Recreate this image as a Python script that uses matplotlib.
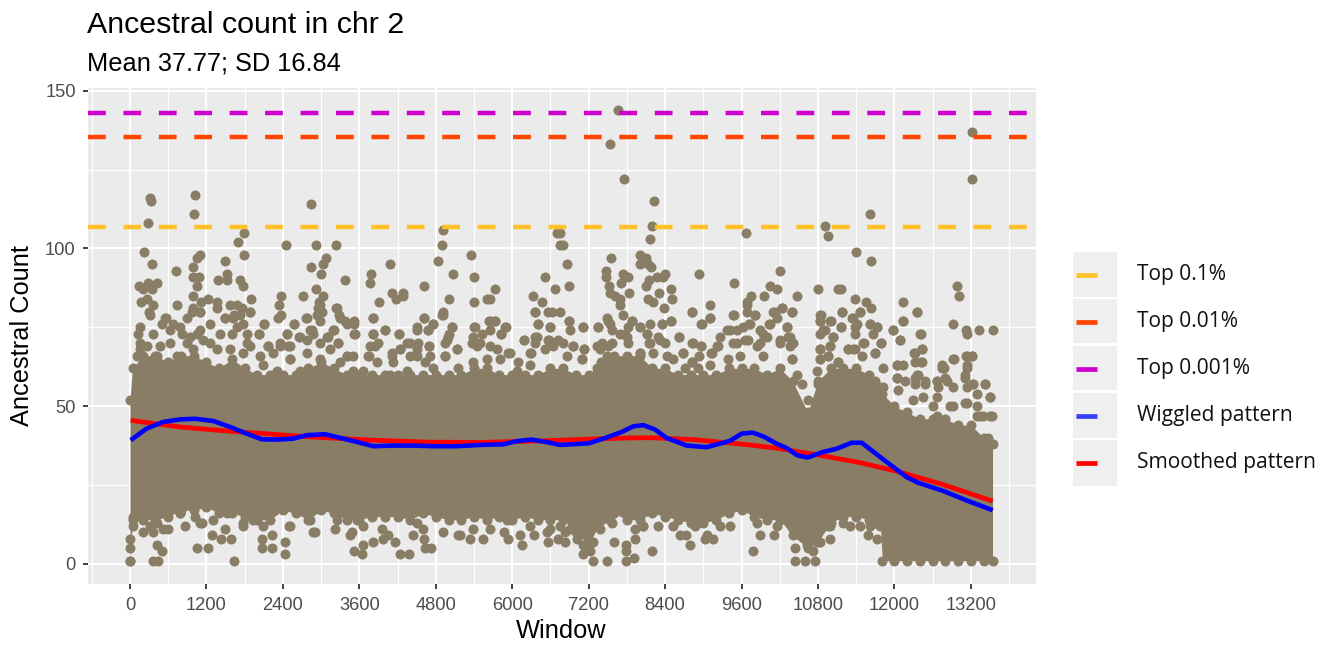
import matplotlib
matplotlib.use("Agg")
import matplotlib.pyplot as plt
from matplotlib.lines import Line2D
from matplotlib.patches import Rectangle

W, H = 1336, 646

title = "Ancestral count in chr 2"
subtitle = "Mean 37.77; SD 16.84"
x_label = "Window"
y_label = "Ancestral Count"
x_major = [0, 1200, 2400, 3600, 4800, 6000, 7200, 8400, 9600, 10800, 12000, 13200]
x_minor = [-600, 600, 1800, 3000, 4200, 5400, 6600, 7800, 9000, 10200, 11400, 12600, 13800]
y_major = [0, 50, 100, 150]
y_minor = [25, 75, 125]

top_01 = 106.8
top_001 = 135.5
top_0001 = 143.0

cloud_x = [0, 40, 200, 400, 600, 800, 1000, 1200, 1400, 1600, 1800, 2000, 2200, 2400, 2600, 2800, 3000, 3200, 3400,
           3600, 3800, 4000, 4200, 4400, 4600, 4800, 5000, 5200, 5400, 5600, 5800, 6000, 6200, 6400, 6600, 6800,
           7000, 7200, 7400, 7600, 7800, 8000, 8200, 8400, 8600, 8800, 9000, 9200, 9400, 9600, 9800, 10000, 10200,
           10400, 10640, 10800, 11000, 11200, 11400, 11600, 11700, 11780, 11810, 12000, 12200, 12400, 12600, 12800,
           13000, 13200, 13400, 13540]
cloud_high = [52, 62, 66, 66, 64, 66, 66, 64, 62, 65, 62, 60, 60, 60, 60, 62, 64, 62, 60,
              60, 60, 60, 60, 60, 60, 60, 60, 60, 62, 62, 60, 60, 60, 60, 62, 62,
              60, 60, 64, 66, 66, 66, 62, 62, 60, 60, 60, 60, 62, 62, 62, 60, 62,
              58, 48, 58, 62, 62, 62, 60, 58, 56, 54, 50, 48, 46, 46, 46,
              44, 44, 40, 38]
cloud_low = [1, 14, 14, 14, 15, 17, 17, 18, 16, 16, 15, 14, 14, 17, 16, 14, 17, 16, 14,
             14, 15, 15, 15, 14, 16, 15, 14, 14, 15, 14, 15, 14, 15, 14, 14, 14,
             10, 6, 14, 16, 14, 14, 16, 15, 14, 13, 13, 14, 16, 17, 15, 14, 14,
             9, 5, 7, 13, 15, 15, 14, 13, 12, 1, 1, 1, 1, 1, 1,
             1, 1, 1, 1]

upper_x = [314, 330, 288, 225, 350, 1015, 1005, 2842, 1795, 1695, 1795, 2454, 2920, 3240, 4919, 4904, 5353, 4835, 5076, 5406,
           4076, 3789, 3773, 1497, 1528, 1518, 1376, 1732, 1769, 2847, 3025, 3077, 3000, 3370, 1099, 1047, 989, 984, 1089, 1057, 994,
           727, 147, 288, 419, 350, 209, 272, 167, 356, 298, 738, 1230, 1361, 1366, 1109, 984, 1099, 2376, 2345, 2376, 2329, 2716, 1894,
           2920, 3025, 2962, 2957, 3009, 3229, 3286, 3375, 3522, 3904, 4108, 4280, 4176, 4291, 4615, 5013, 5730, 5599, 5651, 5395, 6321,
           6510, 6667, 6473, 6703, 6750, 4919, 4904, 4615, 3820, 1491, 1570, 1675, 1764, 1884, 1638, 6363, 6567, 6625, 6750, 6411, 6588,
           2098, 2575, 2774, 560, 4500, 4762, 5641, 5735, 5406, 5898, 4008, 4223, 3820, 3527, 3203, 2460, 2030, 4684, 5055, 5003, 4971,
           6191, 5819, 5521, 6358, 6583, 2658, 2172, 2355, 2486, 4694, 5128, 4946, 5443, 5965, 6280, 2512, 3757, 4500, 4239, 4108, 3846,
           4396, 4527, 3401, 3270, 3114, 2878, 2826,
           7655, 7530, 7750, 8231, 8189, 8158, 9675, 10910, 10952, 11611, 11402, 11627, 13223, 13223, 6855, 6797, 6750, 6891,
           7556, 8001, 8100, 8137, 8006, 8173, 7477, 7467, 7734, 7823, 7702, 7519, 7833, 7535, 7613, 7692, 8398, 8278, 8372, 8147, 8100,
           8493, 8503, 8309, 8137, 8215, 8388, 8493, 8346, 8927, 9487, 10199, 10047, 10151, 9958, 9749, 9680, 10465, 10795, 11120, 11161,
           11386, 11549, 11627, 12130, 12355, 12988, 13019, 9100, 8822, 9100, 8969, 8623, 9476, 9817, 9680, 10099, 10230, 10397, 10151,
           10031, 11172, 10847, 10837, 10999, 11460, 11329, 11381, 11161, 10884, 11031, 12140, 12925, 11972, 13124, 13333, 13542, 13134,
           12407, 12088, 11795, 11523, 11617, 11732, 11659, 7116, 7352, 6891, 7509, 8006, 8111, 8320, 6959, 7127, 7101, 8833, 8958, 8686,
           8927, 9121, 8817, 12428, 12313, 12423, 13218, 13119, 12930, 13134, 12742, 12046, 12140, 12778, 13108, 9262, 9210, 9419, 9628,
           9733, 9890, 9994, 10309, 10361, 10204, 10413, 10387, 9523, 9696, 9890, 10832, 10962, 10832, 10989, 11276, 11381, 11695, 11120,
           8005, 8152, 7509, 7325, 7770, 7875, 13500, 13527, 13422, 13239, 13134, 12794, 12480, 12663, 12925, 13292, 13396, 13475, 12035,
           12323, 12375]
upper_y = [116, 115, 108, 99, 95, 117, 111, 114, 105, 102, 98, 101, 101, 101, 106, 101, 98, 96, 92, 91,
           95, 92, 89, 96, 92, 90, 90, 90, 88, 94, 95, 97, 92, 90, 98, 97, 94, 91, 91, 88, 85,
           93, 88, 89, 89, 87, 87, 84, 83, 82, 80, 82, 84, 83, 81, 83, 81, 80, 85, 82, 79, 78, 85, 84,
           87, 85, 83, 81, 80, 81, 79, 77, 77, 83, 86, 86, 84, 85, 88, 84, 87, 84, 84, 83, 85,
           91, 87, 83, 105, 101, 80, 79, 78, 78, 78, 82, 82, 81, 80, 79, 80, 80, 80, 80, 76, 75,
           76, 76, 78, 78, 75, 76, 77, 77, 75, 75, 74, 73, 73, 73, 74, 73, 73, 74, 75, 73, 71,
           71, 73, 73, 72, 71, 72, 69, 69, 69, 69, 68, 66, 69, 67, 67, 65, 66, 66, 68, 66, 69,
           70, 70, 66, 70, 72, 73, 74,
           144, 133, 122, 115, 107, 103, 105, 107, 104, 111, 99, 96, 137, 122, 95, 101, 105, 88,
           97, 98, 97, 95, 95, 94, 93, 91, 92, 91, 89, 88, 86, 86, 85, 84, 92, 91, 91, 90, 88,
           87, 84, 86, 84, 83, 81, 77, 76, 92, 89, 93, 88, 87, 85, 85, 83, 85, 87, 87, 87,
           84, 83, 81, 83, 80, 88, 85, 82, 80, 78, 76, 72, 79, 79, 80, 80, 81, 80, 78,
           76, 80, 79, 77, 77, 80, 78, 75, 75, 74, 72, 77, 76, 74, 74, 74, 74, 73,
           73, 71, 70, 70, 76, 75, 73, 75, 75, 77, 77, 75, 73, 71, 69, 68, 65, 70, 69, 67,
           66, 67, 64, 68, 67, 64, 66, 66, 65, 63, 63, 63, 63, 62, 60, 72, 69, 74, 75,
           76, 74, 72, 75, 72, 71, 70, 65, 70, 71, 70, 68, 66, 65, 69, 68, 68, 67, 64,
           67, 70, 69, 69, 73, 77, 53, 47, 57, 57, 51, 59, 57, 58, 50, 47, 47, 40, 59,
           59, 60]

band_x = [314, 497, 550, 680, 157, 131, 366, 628, 785, 968, 1099, 890, 811, 942, 1047, 1256, 1099, 1413, 1491, 1622, 1727, 1884,
          1675, 1779, 1832, 1832, 1596, 1256, 1151, 890, 628, 471, 262, 157, 105, 157, 419, 733, 994, 1361, 1570, 1779, 1884,
          2030, 2098, 2460, 2575, 2669, 2763, 2852, 2983, 2931, 2983, 3244, 3297, 3401, 3522, 3522, 3820, 3810, 3899, 4003, 4223,
          3768, 3742, 4108, 4239, 4343, 4500, 2172, 2355, 2512, 2512, 2041, 2250, 2774, 3087, 3192, 3271, 2983, 3140, 2774, 3401,
          3506, 3297, 3506, 3872, 4134, 4396, 4500, 2669, 2983, 2093, 2303, 3663, 4082, 4343,
          4616, 4762, 4684, 4909, 5050, 4998, 4945, 4700, 5129, 4945, 4710, 4631, 4762, 5155, 5390, 5416, 5390, 5364, 5495, 5652,
          5730, 5652, 5887, 5825, 5757, 5940, 5652, 5600, 5809, 6097, 6071, 6296, 6280, 6191, 6358, 6411, 6594, 6384, 6358, 6568,
          6725, 6892, 6908, 6960, 7117, 7128, 7091, 6515, 6646, 6803, 6855, 7353, 7484, 7536, 7562, 7693, 7745, 7876, 7824, 7797,
          7824, 7693, 7405, 7379, 7562, 7484, 7327, 8007, 8164, 8347, 8494, 8111, 8164, 8295, 8399, 8619, 8007, 8216, 8425, 8687,
          8828, 8965, 9132, 9226, 8975, 9106, 8823, 8818, 8922, 9106, 8713, 8530, 7955, 8216,
          9471, 9811, 9681, 10047, 9723, 10125, 10230, 10387, 9367, 9524, 9942, 9654, 9471, 10309, 10335, 10204, 10361, 9838, 9393,
          9576, 9942, 10387, 10466, 10544, 10649, 10832, 10832, 10989, 10832, 10910, 11031, 10989, 10832, 10963, 10832, 10780,
          10806, 11172, 11156, 11460, 11355, 11408, 11381, 11617, 11722, 11512, 11789, 11973, 12088, 12412, 12140, 12349, 11277,
          11120, 11355, 11695, 11486, 11826, 12035, 12428, 12323, 12428, 12323, 12349, 12035, 12166, 12323, 12480, 12663, 12742,
          12925, 13134, 13213, 13134, 13108, 12820, 12925, 12690, 12663, 13134, 13239, 13422, 13291, 13500, 13108, 13291, 12873,
          12611, 12297, 12454, 12062, 11826, 13500, 13344, 12663]
band_y = [79, 76, 78, 76, 75, 73, 73, 74, 75, 80, 80, 78, 73, 72, 73, 76, 74, 73, 78, 78, 79, 80,
          75, 76, 73, 70, 73, 70, 71, 70, 70, 69, 69, 70, 66, 68, 66, 66, 68, 68, 68, 67, 69,
          73, 76, 73, 76, 72, 78, 74, 77, 79, 82, 81, 78, 76, 76, 73, 78, 73, 70, 74, 73,
          69, 66, 67, 68, 70, 74, 69, 70, 69, 65, 66, 67, 71, 72, 74, 70, 70, 68, 67, 66,
          66, 64, 61, 64, 64, 66, 68, 61, 65, 63, 61, 61, 60, 61,
          78, 76, 74, 79, 75, 72, 70, 69, 68, 66, 66, 64, 62, 62, 64, 75, 72, 70, 70, 77,
          77, 74, 75, 73, 68, 67, 69, 65, 65, 64, 61, 67, 63, 71, 80, 76, 75, 72, 70, 71,
          71, 77, 74, 69, 75, 68, 65, 68, 69, 70, 66, 75, 78, 76, 74, 82, 79, 77, 75, 72,
          70, 73, 70, 68, 70, 66, 62, 75, 76, 76, 77, 73, 70, 72, 70, 72, 67, 67, 66, 67,
          70, 69, 67, 69, 76, 78, 80, 64, 62, 63, 62, 65, 62, 61,
          79, 79, 82, 76, 76, 80, 81, 80, 74, 74, 73, 71, 70, 75, 72, 70, 69, 69, 65,
          66, 66, 65, 60, 57, 52, 79, 77, 77, 73, 74, 72, 69, 68, 66, 65, 61,
          57, 80, 75, 80, 78, 76, 73, 76, 75, 70, 70, 74, 71, 73, 77, 80, 68,
          64, 68, 67, 66, 62, 63, 68, 67, 64, 64, 60, 59, 58, 57, 58, 58, 62,
          65, 66, 66, 62, 59, 58, 56, 56, 53, 56, 57, 57, 54, 53, 51, 50, 50,
          50, 52, 53, 55, 56, 47, 47, 47]

lower_x = [445, 1633, 366, 497, 429, 1047, 1219, 869, 1293, 1429, 1586, 1491, 2067, 2067, 2234, 2234, 2433, 2433, 3516, 3647, 3663,
           3810, 4239, 4380, 4631, 4725, 4160, 4615, 4448, 3977, 5338, 5547, 5155, 5877, 5940, 6154, 6342, 6567, 6724, 6541, 2904, 3454,
           3218, 2501, 1779, 1099, 785, 602, 209, 0,
           7273, 7493, 7786, 7912, 7786, 7786, 7603, 8200, 7927, 8791, 9026, 9157, 8728, 9785, 9890, 10115, 10439, 10439, 10596, 10753,
           10989, 10832, 11585, 6828, 6828, 7116, 8294, 8058, 9419, 7378, 7561, 10963, 11303, 11460,
           52, 52, 0, 0, 183, 314, 419, 366, 523, 785, 1020, 1125, 1308, 1518, 1779, 1936, 2093, 2145, 2512, 2826, 2878, 3244, 3558,
           3480, 3663, 3951, 4055, 4500, 4605, 4920, 5181, 5390, 5652, 5913, 6122, 6280, 6593, 6750, 6907, 7012, 7116, 7221, 7273,
           7221, 7064, 7535, 7927, 8058, 8529, 8634, 8870, 9052, 9262, 9837, 10151, 10413, 10518, 10622, 10727, 10779, 10832, 10989,
           11198, 11617, 11721]
lower_y = [1, 1, 1, 4, 6, 5, 5, 12, 9, 8, 8, 11, 8, 5, 5, 9, 7, 3, 4, 3, 6,
           7, 3, 3, 5, 5, 7, 8, 9, 8, 8, 8, 9, 10, 8, 6, 9, 7, 8, 10, 10, 9,
           11, 12, 12, 13, 16, 11, 10, 1,
           1, 1, 1, 2, 4, 6, 7, 4, 8, 6, 8, 8, 9, 4, 9, 9, 1, 5, 1, 1,
           8, 7, 9, 10, 7, 3, 12, 12, 12, 11, 13, 12, 12, 12,
           15, 12, 8, 5, 15, 12, 13, 10, 11, 16, 15, 13, 14, 16, 13, 14, 12, 16, 12, 14, 10, 14, 14,
           10, 12, 11, 9, 13, 11, 10, 9, 11, 11, 14, 9, 12, 11, 12, 11, 8, 6, 4, 7,
           11, 12, 14, 11, 12, 12, 9, 12, 9, 12, 13, 12, 11, 9, 6, 4, 7, 11, 12,
           13, 12, 8]

wiggle_x = [10, 262, 523, 785, 1020, 1308, 1570, 1831, 2067, 2303, 2564, 2774, 3061, 3349, 3611, 3820, 4134, 4448, 4762, 5128,
            5495, 5861, 6070, 6306, 6541, 6750, 7195, 7430, 7718, 7901, 8058, 8241, 8425, 8739, 9052, 9419, 9602, 9775, 9942,
            10151, 10309, 10476, 10633, 10884, 11093, 11329, 11486, 11774, 11983, 12192, 12375, 12768, 13134, 13542]
wiggle_y = [39.2, 42.9, 45.0, 45.8, 46.0, 45.3, 43.4, 41.3, 39.5, 39.4, 39.7, 40.8, 41.1, 39.7, 38.4, 37.3, 37.5, 37.5, 37.3, 37.3,
            37.7, 37.9, 38.9, 39.4, 38.6, 37.7, 38.2, 39.7, 41.8, 43.6, 44.0, 42.6, 39.9, 37.5, 37.0, 39.0, 41.3, 41.6, 40.4,
            38.1, 36.7, 34.4, 33.7, 35.5, 36.5, 38.4, 38.4, 33.9, 30.7, 27.5, 25.7, 23.1, 20.1, 17.0]
smooth_x = [10, 785, 1413, 2093, 2878, 3820, 4657, 5495, 6280, 6750, 7273, 7797, 8163, 8843, 9628, 10151, 10832, 11460, 12088,
            12768, 13542]
smooth_y = [45.5, 43.4, 42.3, 41.3, 40.2, 39.2, 38.6, 38.5, 38.9, 39.2, 39.6, 39.9, 40.0, 39.4, 37.9, 36.7, 34.4, 32.1, 29.1,
            25.1, 19.9]

legend_labels = ["Top 0.1%", "Top 0.01%", "Top 0.001%", "Wiggled pattern", "Smoothed pattern"]
legend_colors = ["#FFC125", "#FF4500", "#CD00CD", "#3A40FF", "#FF0000"]

POINT = "#8A7D65"
plt.rcParams["font.family"] = ["Liberation Sans", "DejaVu Sans"]

fig = plt.figure(figsize=(W / 100, H / 100), dpi=100, facecolor="white")


def fx(p):
    return p / W


def fy(p):
    return 1 - p / H


left, right, top, bottom = 88, 1036, 88, 584
ax = fig.add_axes([fx(left), fy(bottom), (right - left) / W, (bottom - top) / H])
ax.set_facecolor("#EBEBEB")
for s in ax.spines.values():
    s.set_visible(False)

ax.set_xlim(-659, 14222)
ax.set_ylim(-6.4, 150.9)
ax.set_xticks(x_major)
ax.set_xticks(x_minor, minor=True)
ax.set_yticks(y_major)
ax.set_yticks(y_minor, minor=True)
ax.grid(True, which="major", color="white", lw=1.5, zorder=1)
ax.grid(True, which="minor", color="white", lw=0.9, zorder=1)
ax.set_axisbelow(True)
ax.tick_params(which="major", length=3.4, width=1.3, color="#333333", labelcolor="#4D4D4D", labelsize=13.2)
ax.tick_params(axis="x", which="major", pad=6)
ax.tick_params(axis="y", which="major", pad=5.5)
ax.tick_params(which="minor", length=0)

ax.fill_between(cloud_x, cloud_low, cloud_high, color=POINT, lw=0, zorder=2)
ms = 52
ax.scatter(cloud_x, cloud_high, s=ms, color=POINT, lw=0, zorder=2)
ax.scatter(cloud_x, cloud_low, s=ms, color=POINT, lw=0, zorder=2)
ax.scatter(upper_x, upper_y, s=ms, color=POINT, lw=0, zorder=2)
ax.scatter(band_x, band_y, s=ms, color=POINT, lw=0, zorder=2)
ax.scatter(lower_x, lower_y, s=ms, color=POINT, lw=0, zorder=2)

dash = (0, (4.0, 3.97))
for yv, c in [(top_01, legend_colors[0]), (top_001, legend_colors[1]), (top_0001, legend_colors[2])]:
    ax.axhline(yv, color=c, lw=3.2, ls=dash, dash_capstyle="butt", zorder=3)
ax.plot(smooth_x, smooth_y, color="#FF0000", lw=3.4, solid_capstyle="butt", zorder=4)
ax.plot(wiggle_x, wiggle_y, color="#0000FF", lw=3.3, solid_capstyle="butt", zorder=5)

fig.text(fx(87), fy(33), title, fontsize=21.9, color="black", ha="left", va="baseline")
fig.text(fx(87), fy(70), subtitle, fontsize=18.3, color="black", ha="left", va="baseline")
fig.text(fx(561), fy(638), x_label, fontsize=18.3, color="black", ha="center", va="baseline")
fig.text(fx(22), fy(335), y_label, fontsize=18.3, color="black", ha="center", va="center", rotation=90)

key_tops = [252, 299, 346, 393, 440]
key_h = [45, 44, 44, 45, 46]
for lab, col, t, h in zip(legend_labels, legend_colors, key_tops, key_h):
    fig.add_artist(Rectangle((fx(1073), fy(t + h)), 44 / W, h / H, transform=fig.transFigure,
                             facecolor="#EFEFEF", edgecolor="none"))
    yc = t + 22.5
    fig.add_artist(Line2D([fx(1076), fx(1097)], [fy(yc), fy(yc)], transform=fig.transFigure,
                          color=col, lw=3.4, solid_capstyle="butt"))
    fig.text(fx(1137), fy(yc), lab, fontsize=15.1, family=["Open Sans", "DejaVu Sans"], color="#111111",
             ha="left", va="center")

fig.savefig("out.png", dpi=100, facecolor="white")
